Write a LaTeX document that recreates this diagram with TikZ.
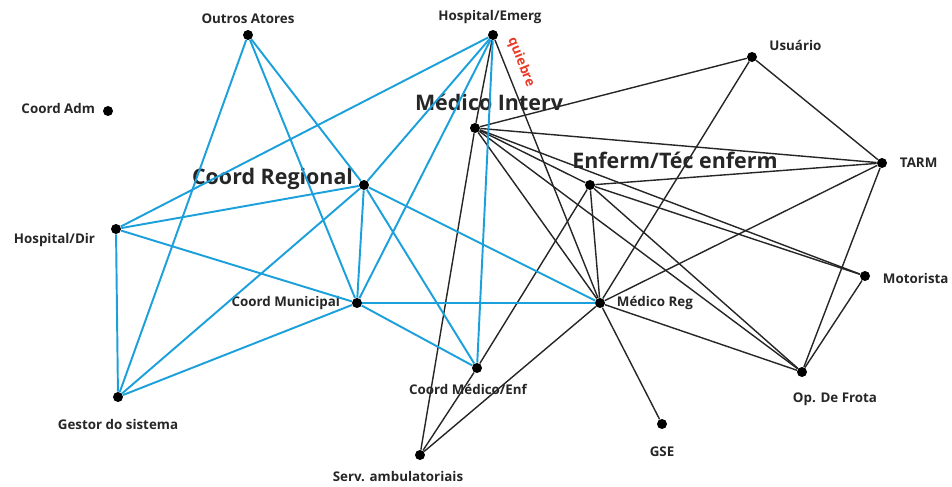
\documentclass[tikz,border=0pt]{standalone}
\usepackage{fontspec}
\setmainfont{Open Sans}
\usetikzlibrary{positioning}
\definecolor{netblue}{RGB}{27,160,219}
\definecolor{netred}{RGB}{232,60,40}
\tikzset{dot/.style={draw=none,fill=black,circle,inner sep=0mm,minimum size=2mm}}
\tikzset{lbl/.style={font=\fontsize{7.6}{9}\selectfont\bfseries,text=black!85,inner sep=1pt}}
\tikzset{big/.style={font=\fontsize{12.2}{14}\selectfont\bfseries,text=black!85,inner sep=1pt}}
\tikzset{bl/.style={netblue,line width=1.1pt}}
\tikzset{bk/.style={black!85,line width=0.8pt}}
\tikzset{
	label distance=0.7mm,
}

\begin{document}
\begin{tikzpicture}
\useasboundingbox (0,0) rectangle (19.04,9.72);

\node[dot,label={[lbl]above:Outros Atores}](outros) at(4.96,9.02) {};
\node[dot,label={[lbl,xshift=-0.6mm]above:Hospital/Emerg}](hospemerg) at(9.86,9.02) {};
\node[dot,label={[lbl,xshift=-0.4mm,yshift=0.6mm]left:Coord Adm}](coordadm) at(2.16,7.50) {};
\node[dot,label={[big,xshift=2.8mm,yshift=1.2mm]above:Médico Interv}](medinterv) at(9.50,7.16) {};
\node[dot,label={[lbl,xshift=1.3mm,yshift=2.4mm]right:Usuário}](usuario) at(15.04,8.58) {};
\node[dot,label={[big,yshift=1.2mm]left:Coord Regional}](coordreg) at(7.28,6.02) {};
\node[dot,label={[big,xshift=17mm,yshift=1mm]above:Enferm/Téc enferm}](enferm) at(11.80,6.02) {};
\node[dot,label={[lbl,xshift=1.4mm]right:TARM}](tarm) at(17.64,6.46) {};
\node[dot,label={[lbl,xshift=-2mm,yshift=-2.2mm]left:Hospital/Dir}](hospdir) at(2.32,5.14) {};
\node[dot,label={[lbl,xshift=-1.2mm]left:Coord Municipal}](coordmun) at(7.14,3.66) {};
\node[dot,label={[lbl,xshift=1.2mm]right:Médico Reg}](medreg) at(12.00,3.66) {};
\node[dot,label={[lbl,xshift=1.4mm,yshift=-0.4mm]right:Motorista}](motorista) at(17.30,4.20) {};
\node[dot,label={[lbl,xshift=-1.8mm,yshift=-1mm]below:Coord Médico/Enf}](coordmed) at(9.54,2.36) {};
\node[dot,label={[lbl,xshift=6.6mm,yshift=-2mm]below:Op. De Frota}](opfrota) at(16.04,2.28) {};
\node[dot,label={[lbl,yshift=-2.3mm]below:Gestor do sistema}](gestor) at(2.36,1.78) {};
\node[dot,label={[lbl,yshift=-2.3mm]below:GSE}](gse) at(13.24,1.24) {};
\node[dot,label={[lbl,xshift=-4.4mm,yshift=-1mm]below:Serv. ambulatoriais}](servamb) at(8.40,0.62) {};

% black ties
\draw[bk] (hospemerg) -- (medinterv);
\draw[bk] (hospemerg) -- (medreg) node[pos=0.11,sloped,above=0.5mm,font=\fontsize{7.6}{9}\selectfont\bfseries,text=netred]{quiebre};
\draw[bk] (medinterv) -- (usuario);
\draw[bk] (medinterv) -- (tarm);
\draw[bk] (medinterv) -- (motorista);
\draw[bk] (medinterv) -- (enferm);
\draw[bk] (medinterv) -- (opfrota);
\draw[bk] (medinterv) -- (medreg);
\draw[bk] (medinterv) -- (servamb);
\draw[bk] (usuario) -- (tarm);
\draw[bk] (usuario) -- (medreg);
\draw[bk] (enferm) -- (tarm);
\draw[bk] (enferm) -- (motorista);
\draw[bk] (enferm) -- (opfrota);
\draw[bk] (enferm) -- (medreg);
\draw[bk] (enferm) -- (coordmed);
\draw[bk] (tarm) -- (medreg);
\draw[bk] (tarm) -- (opfrota);
\draw[bk] (medreg) -- (opfrota);
\draw[bk] (medreg) -- (gse);
\draw[bk] (medreg) -- (servamb);
\draw[bk] (motorista) -- (opfrota);
\draw[bk] (coordmed) -- (servamb);

% blue ties
\draw[bl] (outros) -- (gestor);
\draw[bl] (outros) -- (coordreg);
\draw[bl] (outros) -- (coordmun);
\draw[bl] (hospemerg) -- (hospdir);
\draw[bl] (hospemerg) -- (coordreg);
\draw[bl] (hospemerg) -- (coordmun);
\draw[bl] (hospemerg) -- (coordmed);
\draw[bl] (hospdir) -- (coordreg);
\draw[bl] (hospdir) -- (coordmun);
\draw[bl] (hospdir) -- (gestor);
\draw[bl] (gestor) -- (coordreg);
\draw[bl] (gestor) -- (coordmun);
\draw[bl] (coordreg) -- (coordmun);
\draw[bl] (coordreg) -- (medreg);
\draw[bl] (coordreg) -- (coordmed);
\draw[bl] (coordmun) -- (medreg);
\draw[bl] (coordmun) -- (coordmed);

\end{tikzpicture}
\end{document}
